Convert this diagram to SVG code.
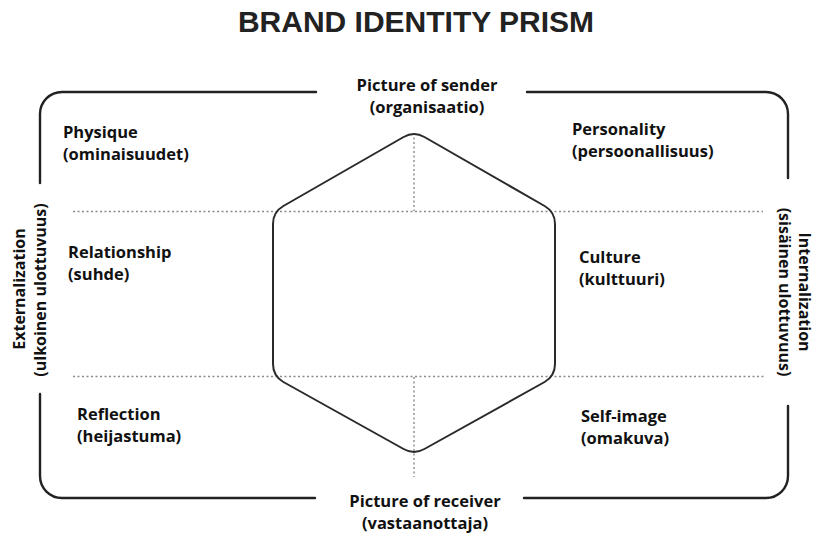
<svg xmlns="http://www.w3.org/2000/svg" width="816" height="534" viewBox="0 0 816 534">
  <style>
    .title { font-family: "Liberation Sans", Arial, sans-serif; font-weight: bold; font-size: 30px; fill: #222; }
    .lbl { font-family: "Open Sans", "Noto Sans", sans-serif; font-weight: bold; font-size: 16.5px; fill: #111; }
    .side { font-size: 16px; }
    .frame { fill: none; stroke: #222; stroke-width: 2.4; stroke-linecap: round; }
    .hex { fill: none; stroke: #2a2a2a; stroke-width: 2; stroke-linejoin: round; }
    .dots { fill: none; stroke: #8a8a8a; stroke-width: 1.4; stroke-dasharray: 2 2.5; }
  </style>
  <rect width="816" height="534" fill="#fff"/>

  <text class="title" x="416" y="32" text-anchor="middle">BRAND IDENTITY PRISM</text>

  <!-- outer frame, broken where the axis labels sit -->
  <g id="frame">
    <path class="frame" d="M40 183 V114 A22 22 0 0 1 62 92 H316"/>
    <path class="frame" d="M527 92 H766 A22 22 0 0 1 788 114 V178"/>
    <path class="frame" d="M788 406 V476 A22 22 0 0 1 766 498 H524"/>
    <path class="frame" d="M315 498 H62 A22 22 0 0 1 40 476 V394"/>
  </g>

  <!-- dotted guide lines -->
  <g id="connectors">
    <path class="dots" d="M73 211.5 H763"/>
    <path class="dots" d="M73 376.5 H765"/>
    <path class="dots" d="M414 133 V211"/>
    <path class="dots" d="M414 377 V477"/>
  </g>

  <!-- central hexagon -->
  <g id="prism">
    <path class="hex" d="M403.6 137 Q414 131 424.4 137 L544.6 206 Q555 212 555 224 L555 364 Q555 376 544.6 382 L424.4 449 Q414 455 403.6 449 L283.4 382 Q273 376 273 364 L273 224 Q273 212 283.4 206 Z"/>
  </g>

  <g id="sender">
    <text class="lbl" x="427" y="91" text-anchor="middle">Picture of sender</text>
    <text class="lbl" x="427" y="113" text-anchor="middle">(organisaatio)</text>
  </g>
  <g id="receiver">
    <text class="lbl" x="425" y="507" text-anchor="middle">Picture of receiver</text>
    <text class="lbl" x="425" y="529" text-anchor="middle">(vastaanottaja)</text>
  </g>

  <g id="physique">
    <text class="lbl" x="63" y="138">Physique</text>
    <text class="lbl" x="63" y="160">(ominaisuudet)</text>
  </g>
  <g id="personality">
    <text class="lbl" x="572" y="135">Personality</text>
    <text class="lbl" x="572" y="157">(persoonallisuus)</text>
  </g>
  <g id="relationship">
    <text class="lbl" x="68" y="258">Relationship</text>
    <text class="lbl" x="68" y="280">(suhde)</text>
  </g>
  <g id="culture">
    <text class="lbl" x="579" y="263">Culture</text>
    <text class="lbl" x="579" y="285">(kulttuuri)</text>
  </g>
  <g id="reflection">
    <text class="lbl" x="77" y="420">Reflection</text>
    <text class="lbl" x="77" y="442">(heijastuma)</text>
  </g>
  <g id="self-image">
    <text class="lbl" x="581" y="422">Self-image</text>
    <text class="lbl" x="581" y="444">(omakuva)</text>
  </g>

  <g id="externalization">
    <text class="lbl side" transform="translate(25 289) rotate(-90)" text-anchor="middle">Externalization</text>
    <text class="lbl side" transform="translate(46 290) rotate(-90)" text-anchor="middle">(ulkoinen ulottuvuus)</text>
  </g>
  <g id="internalization">
    <text class="lbl side" transform="translate(799 292) rotate(90)" text-anchor="middle">Internalization</text>
    <text class="lbl side" transform="translate(779 292) rotate(90)" text-anchor="middle">(sisäinen ulottuvuus)</text>
  </g>
</svg>
